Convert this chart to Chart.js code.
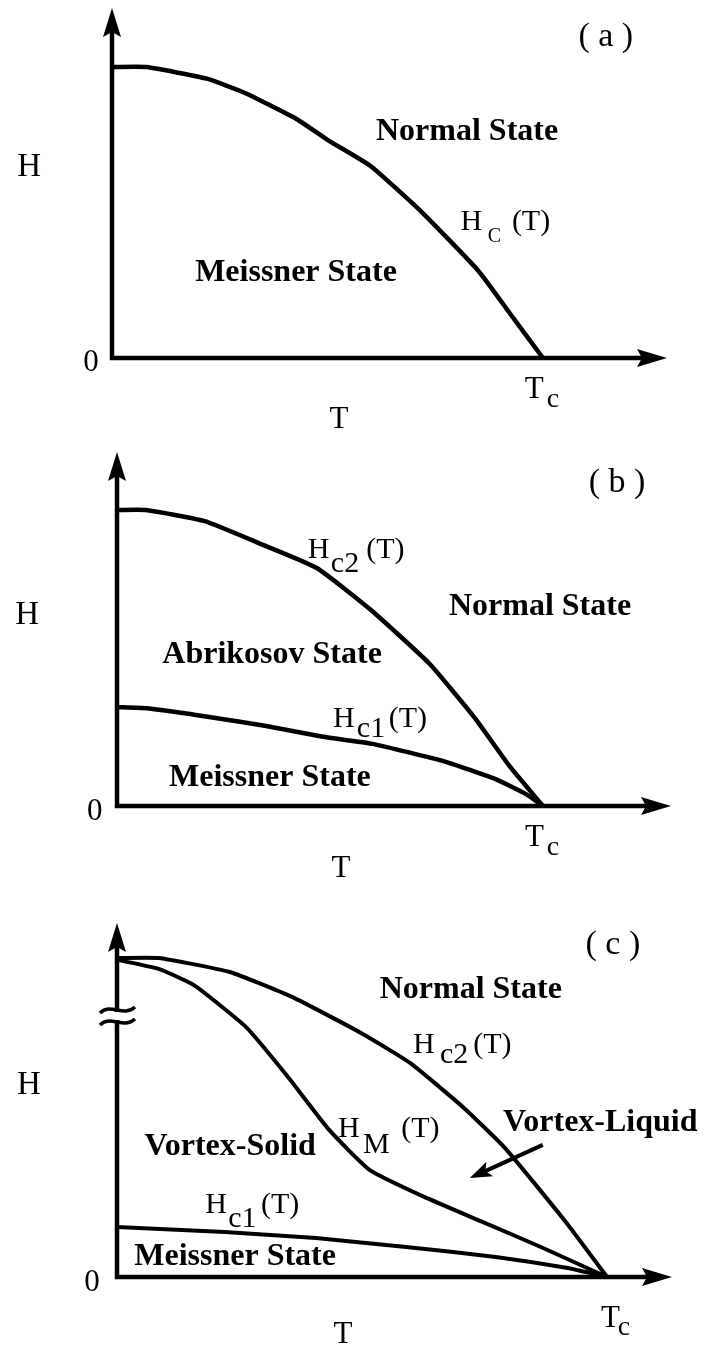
<!DOCTYPE html>
<html>
<head>
<meta charset="utf-8">
<title>Phase diagrams</title>
<script src="https://cdn.jsdelivr.net/npm/chart.js@4.4.1/dist/chart.umd.min.js"></script>
<style>
  html, body { margin: 0; padding: 0; background: #fff; }
  #wrap { position: relative; width: 705px; height: 1353px; }
  canvas { position: absolute; left: 0; }
</style>
</head>
<body>
<div id="wrap">
  <canvas id="chartA" width="705" height="450" style="top:0"></canvas>
  <canvas id="chartB" width="705" height="430" style="top:450px"></canvas>
  <canvas id="chartC" width="705" height="473" style="top:880px"></canvas>
</div>
<script>
// T in units of Tc, H in units of the top critical field at T = 0

// (a) type I
const tHcA = [0, 0.08, 0.22, 0.31, 0.43, 0.50, 0.60, 0.72, 0.85, 0.93, 1.0];
const hcA  = [1.0, 1.0, 0.96, 0.91, 0.82, 0.75, 0.66, 0.50, 0.30, 0.14, 0];

// (b) type II
const tHc2B = [0, 0.068, 0.204, 0.343, 0.469, 0.596, 0.732, 0.838, 0.923, 1.0];
const hc2B  = [1.0, 1.0, 0.963, 0.882, 0.804, 0.662, 0.483, 0.301, 0.132, 0];
const tHc1B = [0, 0.07, 0.22, 0.35, 0.48, 0.60, 0.77, 0.89, 0.96, 1.0];
const hc1B  = [0.334, 0.33, 0.30, 0.27, 0.235, 0.21, 0.15, 0.09, 0.04, 0];

// (c) vortex matter
const tHc2C = [0, 0.085, 0.23, 0.357, 0.498, 0.598, 0.708, 0.792, 0.912, 1.0];
const hc2C  = [1.0, 1.0, 0.956, 0.878, 0.765, 0.671, 0.53, 0.404, 0.18, 0];
const tHmC  = [0, 0.085, 0.157, 0.263, 0.349, 0.433, 0.516, 0.627, 0.747, 0.865, 1.0];
const hmC   = [0.994, 0.966, 0.915, 0.784, 0.627, 0.461, 0.335, 0.251, 0.172, 0.094, 0];
const tHc1C = [0, 0.22, 0.406, 0.59, 0.773, 0.92, 1.0];
const hc1C  = [0.157, 0.141, 0.122, 0.094, 0.063, 0.028, 0];

const axisLabels = ["H", "T"];
const zeroLabel = "0";
const tcLabel = ["T", "c"];

const SERIF = "'Liberation Serif', 'Times New Roman', serif";

function curve(xs, ys, width) {
  return {
    data: xs.map((x, i) => ({ x, y: ys[i] })),
    borderColor: "#000",
    borderWidth: width,
    pointRadius: 0,
    tension: 0.15,
    fill: false,
    clip: false
  };
}

function arrowHead(ctx, tipX, tipY, ux, uy, len, half) {
  const bx = tipX - ux * len, by = tipY - uy * len;
  ctx.beginPath();
  ctx.moveTo(tipX, tipY);
  ctx.lineTo(bx - uy * half, by + ux * half);
  ctx.lineTo(bx + ux * 5, by + uy * 5);
  ctx.lineTo(bx + uy * half, by - ux * half);
  ctx.closePath();
  ctx.fill();
}

// axes with arrow heads, optional axis break, pointer arrow and all labels
function diagram(extra) {
  return {
    id: "diagram",
    afterDraw(chart) {
      const { ctx, chartArea: a, scales: { x, y } } = chart;
      ctx.save();
      ctx.strokeStyle = "#000";
      ctx.fillStyle = "#000";
      ctx.lineWidth = 4.5;
      ctx.lineJoin = "miter";

      ctx.beginPath();
      ctx.moveTo(a.left, a.top + 20);
      ctx.lineTo(a.left, a.bottom);
      ctx.lineTo(a.right - 20, a.bottom);
      ctx.stroke();
      arrowHead(ctx, a.left, a.top, 0, -1, 29, 9);
      arrowHead(ctx, a.right, a.bottom, 1, 0, 30, 9);

      if (extra.breakAt !== undefined) {
        const yb = y.getPixelForValue(extra.breakAt);
        ctx.fillStyle = "#fff";
        ctx.fillRect(a.left - 4, yb - 4, 8, 8);
        ctx.fillStyle = "#000";
        ctx.lineWidth = 3.5;
        [yb - 6, yb + 6].forEach(yy => {
          ctx.beginPath();
          ctx.moveTo(a.left - 17, yy + 3);
          ctx.bezierCurveTo(a.left - 6, yy - 8, a.left + 6, yy + 8, a.left + 18, yy - 3);
          ctx.stroke();
        });
      }

      if (extra.pointer) {
        const p = extra.pointer;
        const x0 = x.getPixelForValue(p.from[0]), y0 = y.getPixelForValue(p.from[1]);
        const x1 = x.getPixelForValue(p.to[0]), y1 = y.getPixelForValue(p.to[1]);
        const d = Math.hypot(x1 - x0, y1 - y0), ux = (x1 - x0) / d, uy = (y1 - y0) / d;
        ctx.lineWidth = 4;
        ctx.beginPath();
        ctx.moveTo(x0, y0);
        ctx.lineTo(x1 - ux * 14, y1 - uy * 14);
        ctx.stroke();
        arrowHead(ctx, x1, y1, ux, uy, 22, 8);
      }

      extra.labels.forEach(l => {
        ctx.font = (l.bold ? "bold " : "") + (l.size || 30) + "px " + SERIF;
        ctx.textAlign = l.align || "center";
        ctx.textBaseline = l.base || "middle";
        ctx.fillText(l.text, x.getPixelForValue(l.x), y.getPixelForValue(l.y));
      });
      ctx.restore();
    }
  };
}

function phaseChart(id, datasets, opts) {
  return new Chart(document.getElementById(id), {
    type: "line",
    data: { datasets },
    options: {
      responsive: false,
      devicePixelRatio: 1,
      animation: false,
      events: [],
      layout: { padding: opts.padding },
      plugins: { legend: { display: false }, tooltip: { enabled: false } },
      scales: {
        x: { type: "linear", display: false, min: 0, max: opts.xMax },
        y: { type: "linear", display: false, min: 0, max: opts.yMax }
      }
    },
    plugins: [diagram(opts)]
  });
}

function sub(text, x, y, size) {
  return { text, x, y, align: "left", base: "alphabetic", size: size || 30 };
}

phaseChart("chartA", [curve(tHcA, hcA, 4.5)], {
  padding: { left: 112, right: 38, top: 8, bottom: 92 },
  xMax: 1.288, yMax: 1.203,
  labels: [
    { text: "( a )", x: 1.146, y: 1.103, size: 34 },
    { text: axisLabels[0], x: -0.192, y: 0.656, size: 33 },
    { text: zeroLabel, x: -0.049, y: -0.017, size: 31 },
    { text: axisLabels[1], x: 0.527, y: -0.213, size: 31 },
    sub(tcLabel[0], 0.958, -0.137, 31),
    sub(tcLabel[1], 1.009, -0.168, 28),
    { text: "Normal State", x: 0.824, y: 0.777, bold: true, size: 32 },
    { text: "Meissner State", x: 0.427, y: 0.292, bold: true, size: 32 },
    sub("H", 0.809, 0.440),
    sub("C", 0.872, 0.400, 20),
    sub("(T)", 0.928, 0.440)
  ]
});

phaseChart("chartB", [curve(tHc2B, hc2B, 4.5), curve(tHc1B, hc1B, 4.5)], {
  padding: { left: 117, right: 34, top: 2, bottom: 74 },
  xMax: 1.3005, yMax: 1.196,
  labels: [
    { text: "( b )", x: 1.174, y: 1.091, size: 34 },
    { text: axisLabels[0], x: -0.211, y: 0.645, size: 33 },
    { text: zeroLabel, x: -0.052, y: -0.020, size: 31 },
    { text: axisLabels[1], x: 0.526, y: -0.213, size: 31 },
    sub(tcLabel[0], 0.958, -0.135, 31),
    sub(tcLabel[1], 1.009, -0.166, 28),
    sub("H", 0.448, 0.838),
    sub("c2", 0.502, 0.791),
    sub("(T)", 0.585, 0.838),
    { text: "Normal State", x: 0.993, y: 0.672, bold: true, size: 32 },
    { text: "Abrikosov State", x: 0.364, y: 0.510, bold: true, size: 32 },
    sub("H", 0.507, 0.267),
    sub("c1", 0.563, 0.233),
    sub("(T)", 0.638, 0.267),
    { text: "Meissner State", x: 0.359, y: 0.095, bold: true, size: 32 }
  ]
});

phaseChart("chartC", [curve(tHc2C, hc2C, 4), curve(tHmC, hmC, 4), curve(tHc1C, hc1C, 4)], {
  padding: { left: 117, right: 33, top: 43, bottom: 76 },
  xMax: 1.1327, yMax: 1.1097,
  breakAt: 0.818,
  pointer: { from: [0.869, 0.414], to: [0.720, 0.310] },
  labels: [
    { text: "( c )", x: 1.012, y: 1.041, size: 34 },
    { text: axisLabels[0], x: -0.180, y: 0.602, size: 33 },
    { text: zeroLabel, x: -0.051, y: -0.019, size: 31 },
    { text: axisLabels[1], x: 0.461, y: -0.182, size: 31 },
    sub(tcLabel[0], 0.988, -0.157, 31),
    sub(tcLabel[1], 1.022, -0.182, 28),
    { text: "Normal State", x: 0.722, y: 0.900, bold: true, size: 32 },
    sub("H", 0.604, 0.702),
    sub("c2", 0.659, 0.671),
    sub("(T)", 0.727, 0.702),
    sub("H", 0.451, 0.439),
    sub("M", 0.502, 0.389),
    sub("(T)", 0.580, 0.439),
    { text: "Vortex-Liquid", x: 0.788, y: 0.483, bold: true, size: 32, align: "left" },
    { text: "Vortex-Solid", x: 0.231, y: 0.408, bold: true, size: 32 },
    sub("H", 0.180, 0.201),
    sub("c1", 0.227, 0.157),
    sub("(T)", 0.294, 0.201),
    { text: "Meissner State", x: 0.241, y: 0.063, bold: true, size: 32 }
  ]
});
</script>
</body>
</html>
